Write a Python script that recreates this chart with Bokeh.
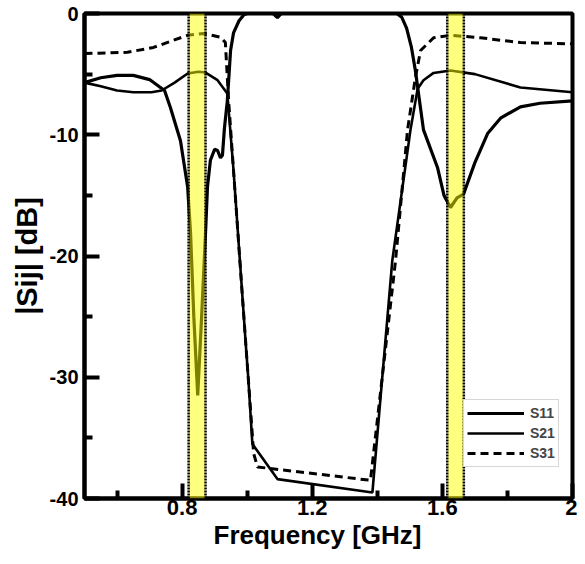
from bokeh.plotting import figure
from bokeh.models import (ColumnDataSource, Legend, LegendItem, FixedTicker,
                          Range1d, BoxAnnotation, Span, Title)
from bokeh.embed import file_html
from bokeh.resources import INLINE

# ---------------- data ----------------
freq_s11 = [0.50, 0.55, 0.60, 0.65, 0.70, 0.746, 0.764, 0.795, 0.817, 0.826,
            0.836, 0.848, 0.860, 0.872, 0.878, 0.887, 0.900, 0.909, 0.918,
            0.924, 0.930, 0.939, 0.949, 0.958, 0.975, 0.990, 1.000, 1.080,
            1.093, 1.105, 1.460, 1.475, 1.490, 1.505, 1.517, 1.542, 1.585,
            1.605, 1.625, 1.645, 1.665, 1.700, 1.739, 1.780, 1.840, 1.900, 2.000]
s11_db = [-5.7, -5.3, -5.1, -5.1, -5.45, -6.35, -7.75, -10.5, -14.3, -18.1,
          -25.0, -31.5, -25.0, -18.1, -14.3, -12.1, -11.2, -11.3, -11.9,
          -11.7, -9.5, -7.2, -3.05, -1.6, -0.6, -0.1, 0.0, 0.0,
          -0.35, 0.0, 0.0, -0.3, -1.2, -2.8, -4.7, -9.6, -12.7,
          -15.0, -16.0, -15.2, -14.9, -12.3, -9.9, -8.6, -7.7, -7.4, -7.2]

freq_s21 = [0.50, 0.55, 0.60, 0.65, 0.706, 0.737, 0.777, 0.817, 0.850, 0.872,
            0.909, 0.939, 0.958, 0.995, 1.004, 1.016, 1.093, 1.385, 1.446,
            1.502, 1.524, 1.542, 1.573, 1.625, 1.700, 1.840, 2.000]
s21_db = [-5.7, -6.0, -6.35, -6.5, -6.5, -6.35, -5.7, -4.95, -4.8, -4.87,
          -5.5, -6.6, -12.9, -27.0, -30.3, -35.5, -38.4, -39.5, -20.4,
          -9.6, -6.2, -5.5, -4.9, -4.7, -5.0, -6.1, -6.5]

freq_s31 = [0.50, 0.632, 0.712, 0.774, 0.817, 0.866, 0.918, 0.933, 0.943,
            0.981, 1.020, 1.032, 1.379, 1.456, 1.493, 1.517, 1.533, 1.573,
            1.625, 1.717, 1.840, 2.000]
s31_db = [-3.3, -3.2, -2.8, -2.2, -1.8, -1.65, -1.95, -2.4, -7.2,
          -21.7, -36.3, -37.4, -38.5, -20.4, -9.6, -5.3, -3.05, -2.0,
          -1.8, -2.0, -2.4, -2.5]

band_lo = [0.820, 1.615]
band_hi = [0.872, 1.666]

x_major = [0.8, 1.2, 1.6, 2.0]
x_minor = [0.6, 1.0, 1.4, 1.8]
x_labels = ["0.8", "1.2", "1.6", "2"]
y_major = [0, -10, -20, -30, -40]
y_minor = [-5, -15, -25, -35]
y_labels = ["0", "-10", "-20", "-30", "-40"]

FONT = "Liberation Sans"

p = figure(width=577, height=560, output_backend="svg", toolbar_location=None,
           x_range=Range1d(0.5, 2.0), y_range=Range1d(-40, 0),
           min_border_left=84, min_border_right=5, min_border_top=13,
           min_border_bottom=62)
p.background_fill_color = "white"
p.border_fill_color = "white"
p.grid.visible = False
p.outline_line_color = "black"
p.outline_line_width = 4

src11 = ColumnDataSource(dict(x=freq_s11, y=s11_db))
src21 = ColumnDataSource(dict(x=freq_s21, y=s21_db))
src31 = ColumnDataSource(dict(x=freq_s31, y=s31_db))

r11 = p.line("x", "y", source=src11, line_color="black", line_width=3.2)
r21 = p.line("x", "y", source=src21, line_color="black", line_width=2.6)
r31 = p.line("x", "y", source=src31, line_color="black", line_width=3,
             line_dash="8 5")

for lo, hi in zip(band_lo, band_hi):
    p.add_layout(BoxAnnotation(left=lo, right=hi, fill_color="#FFFF00",
                               fill_alpha=0.5, line_alpha=0))
    for loc in (lo, hi):
        p.add_layout(Span(location=loc, dimension="height", line_color="black",
                          line_width=2.5, line_dash="2 1"))

# axes
xa = p.xaxis[0]
xa.ticker = FixedTicker(ticks=x_major, minor_ticks=x_minor)
xa.major_label_overrides = {v: s for v, s in zip(x_major, x_labels)}
ya = p.yaxis[0]
ya.ticker = FixedTicker(ticks=y_major, minor_ticks=y_minor)
ya.major_label_overrides = {v: s for v, s in zip(y_major, y_labels)}

for ax in (xa, ya):
    ax.axis_line_width = 4
    ax.axis_line_color = "black"
    ax.major_tick_in = 15
    ax.major_tick_out = 0
    ax.minor_tick_in = 8
    ax.minor_tick_out = 0
    ax.major_tick_line_width = 4
    ax.minor_tick_line_width = 4
    ax.major_label_text_font = FONT
    ax.major_label_text_font_style = "bold"
    ax.major_label_text_color = "black"
    ax.axis_label_text_font = FONT
    ax.axis_label_text_font_style = "bold"
    ax.axis_label_text_color = "black"

xa.major_label_text_font_size = "22px"
xa.major_label_standoff = 1
ya.major_label_text_font_size = "20px"
ya.axis_label = "|Sij| [dB]"
ya.axis_label_text_font_size = "29px"
ya.major_label_standoff = 6
ya.axis_label_standoff = 4

xtitle = Title(text="Frequency [GHz]", align="left", offset=129,
               text_font=FONT, text_font_style="bold", text_font_size="26px",
               text_color="black", standoff=0)
p.add_layout(xtitle, "below")

legend = Legend(items=[LegendItem(label="S11", renderers=[r11]),
                       LegendItem(label="S21", renderers=[r21]),
                       LegendItem(label="S31", renderers=[r31])],
                location=(379, 31), margin=0, padding=3, spacing=0,
                glyph_width=57, glyph_height=20, label_height=20,
                label_standoff=6, label_text_font=FONT,
                label_text_font_style="bold", label_text_font_size="14px",
                border_line_color="#b0b0b0", border_line_width=1.5,
                background_fill_color="white", background_fill_alpha=1)
p.add_layout(legend)

open("out.html", "w").write(file_html(p, INLINE))
